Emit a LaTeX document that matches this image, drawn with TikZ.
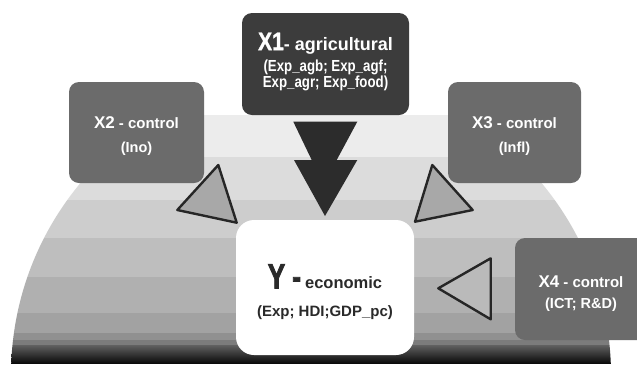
\documentclass[tikz,border=0pt]{standalone}
\usepackage{fontspec}
\setmainfont{Liberation Sans}
\newfontfamily\narrowfont{Liberation Sans}[FakeStretch=0.83]
\newfontfamily\narrowheavy{Liberation Sans Bold}[FakeStretch=0.83, FakeBold=1.2]
\newfontfamily\condfont{Liberation Sans Bold}[FakeStretch=0.74, FakeBold=2.2]
\definecolor{boxdark}{HTML}{3C3C3C}
\definecolor{boxmid}{HTML}{6B6B6B}
\definecolor{arrowdark}{HTML}{2C2C2C}
\definecolor{trifill}{HTML}{A8A8A8}
\definecolor{trifilllight}{HTML}{BABABA}
\definecolor{triline}{HTML}{262626}
\definecolor{ytext}{HTML}{2A2A2A}
\definecolor{bandA}{HTML}{ECECEC}
\definecolor{bandB}{HTML}{DCDCDC}
\definecolor{bandC}{HTML}{CDCDCD}
\definecolor{bandD}{HTML}{BEBEBE}
\definecolor{bandE}{HTML}{B0B0B0}
\definecolor{bandF}{HTML}{A2A2A2}
\definecolor{bandG}{HTML}{909090}
\definecolor{bandH}{HTML}{7C7C7C}
\tikzset{
  box/.style={draw=none, rounded corners=10pt, inner sep=0pt, align=center, text=white},
  darkbox/.style={box, fill=boxdark},
  midbox/.style={box, fill=boxmid},
  whitebox/.style={draw=none, fill=white, rounded corners=18pt, inner sep=0pt, align=center, text=ytext},
  tri/.style={fill=trifill, draw=triline, line width=2.4pt, line join=round},
  bigarrow/.style={fill=arrowdark, draw=none}
}
\begin{document}
\begin{tikzpicture}[x=1pt,y=-1pt]
\useasboundingbox (0,0) rectangle (637,365);
\fill[white] (0,0) rectangle (637,365);
\begin{scope}
\clip (0,0) rectangle (637,365);
% dome with bands
\begin{scope}
\clip (311,375) circle (300);
\fill[bandA] (0,115) rectangle (637,157);
\fill[bandB] (0,157) rectangle (637,200);
\fill[bandC] (0,200) rectangle (637,238);
\fill[bandD] (0,238) rectangle (637,277);
\fill[bandE] (0,277) rectangle (637,313);
\fill[bandF] (0,313) rectangle (637,333);
\fill[bandG] (0,333) rectangle (637,340);
\fill[bandH] (0,340) rectangle (637,345);
\shade[top color=black!62, bottom color=black!96] (0,345) rectangle (637,363);
\end{scope}

% boxes
\node[darkbox, minimum width=167pt, minimum height=102pt,
      font=\narrowfont\bfseries\fontsize{16}{16.3}\selectfont] (x1) at (325.5,64)
  {{\narrowheavy\fontsize{25.5}{26}\selectfont X1}{\setmainfont{Liberation Sans}\normalfont\bfseries\fontsize{18}{20}\selectfont - agricultural}\\[5pt]
   (Exp\_agb; Exp\_agf;\\
   Exp\_agr; Exp\_food)\rule[-7.5pt]{0pt}{0pt}};

\node[midbox, minimum width=135pt, minimum height=101pt,
      font=\bfseries\fontsize{14.5}{23}\selectfont] (x2) at (136.5,132.5)
  {\rule{0pt}{18.5pt}{\fontsize{17}{20}\selectfont X2} {\fontsize{15}{20}\selectfont - control}\\[1pt](Ino)};

\node[midbox, minimum width=133pt, minimum height=101pt,
      font=\bfseries\fontsize{14.5}{23}\selectfont] (x3) at (514.5,132.5)
  {\rule{0pt}{18.5pt}{\fontsize{17}{20}\selectfont X3} {\fontsize{15}{20}\selectfont - control}\\[1pt](Infl)};

\node[midbox, minimum width=132pt, minimum height=102pt,
      font=\bfseries\fontsize{14.5}{20.5}\selectfont] (x4) at (581,289)
  {\rule{0pt}{20.5pt}{\fontsize{17}{20}\selectfont X4} {\fontsize{15}{20}\selectfont - control}\\[1pt](ICT; R\&D)};

\node[whitebox, minimum width=178pt, minimum height=135pt,
      font=\bfseries\fontsize{15}{25}\selectfont] (y) at (325,287.5)
  {\rule{0pt}{33pt}{\condfont\fontsize{35}{36}\selectfont Y -} {\fontsize{16.5}{20}\selectfont economic}\\[3pt](Exp; HDI;GDP\_pc)};

% arrows / triangles
\draw[bigarrow] (293.3,121.7) -- (357.3,121.7) -- (336.7,160) -- (357.3,160)
  -- (325,216) -- (294,160) -- (311.7,160) -- cycle;
\draw[tri] (177.3,210) -- (218.3,165) -- (236.7,222.7) -- cycle;
\draw[tri] (432.3,165) -- (472.7,210) -- (415,221.7) -- cycle;
\draw[tri, fill=trifilllight] (438.3,288.3) -- (490.7,258.3) -- (490.7,319.3) -- cycle;
\end{scope}
\end{tikzpicture}
\end{document}
